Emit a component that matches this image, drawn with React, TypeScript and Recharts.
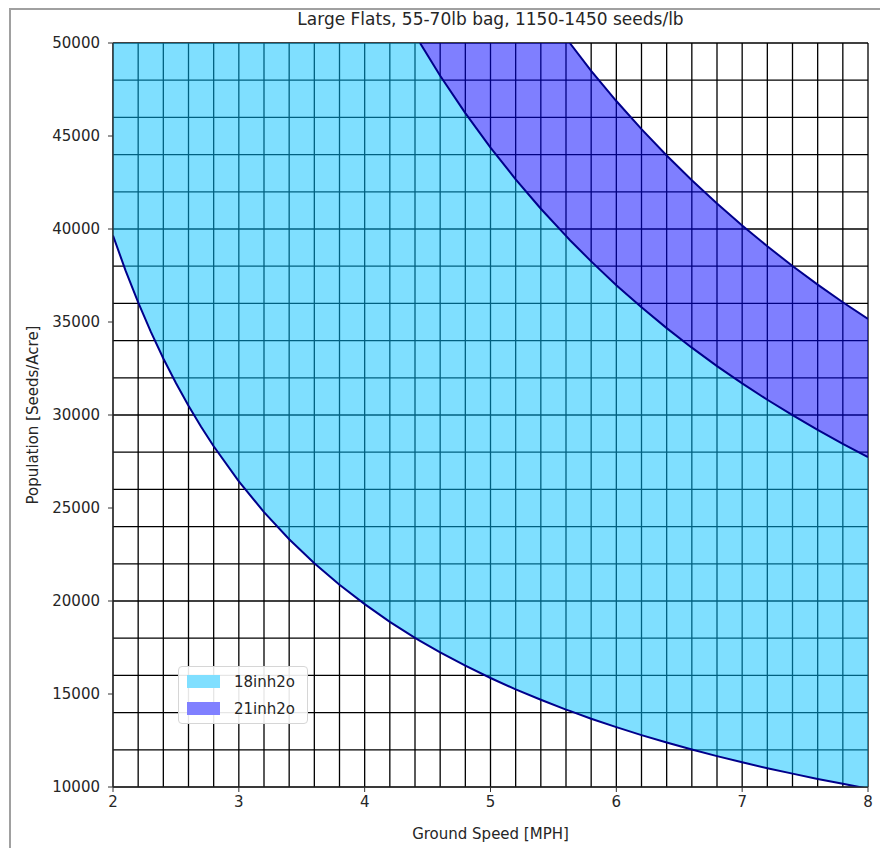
import {
  ComposedChart,
  Area,
  Line,
  XAxis,
  YAxis,
  CartesianGrid,
  Label,
} from 'recharts'

// ground speed [MPH]
const speeds = [
  2.0, 2.1, 2.2, 2.3, 2.4, 2.5, 2.6, 2.7, 2.8, 3.0, 3.2, 3.4, 3.6, 3.8, 4.0,
  4.2, 4.4, 4.44, 4.6, 4.8, 5.0, 5.2, 5.4, 5.6, 5.63, 5.8, 6.0, 6.2, 6.4, 6.6,
  6.8, 7.0, 7.2, 7.4, 7.6, 7.8, 8.0,
]

// lower edge of 18inh2o band
const lowCurve = [
  39650, 37760, 36050, 34480, 33040, 31720, 30500, 29370, 28320, 26430, 24780,
  23320, 22030, 20870, 19830, 18880, 18020, 17860, 17240, 16520, 15860, 15250,
  14690, 14160, 14090, 13670, 13220, 12790, 12390, 12020, 11660, 11330, 11010,
  10720, 10430, 10170, 9910,
]

// 18inh2o / 21inh2o boundary (null = above the plot)
const midCurve = [
  null, null, null, null, null, null, null, null, null, null, null, null, null,
  null, null, null, null, 50000, 48240, 46230, 44380, 42670, 41090, 39630,
  39410, 38260, 36980, 35790, 34670, 33620, 32630, 31700, 30820, 29990, 29200,
  28450, 27740,
]

// upper edge of 21inh2o band
const topCurve = [
  null, null, null, null, null, null, null, null, null, null, null, null, null,
  null, null, null, null, null, null, null, null, null, null, null, 50000,
  48500, 46880, 45370, 43950, 42620, 41370, 40190, 39070, 38010, 37010, 36060,
  35160,
]

const seriesNames = ['18inh2o', '21inh2o']
const xTicks = [2, 3, 4, 5, 6, 7, 8]
const yTicks = [10000, 15000, 20000, 25000, 30000, 35000, 40000, 45000, 50000]

const TOP = 50000
// grid every 0.2 mph and every 1000 seeds
const gridX = Array.from({ length: 31 }, (_, i) => (20 + i * 2) / 10)
const gridY = Array.from({ length: 41 }, (_, i) => 10000 + i * 1000)

const data = speeds.map((x, i) => ({
  x,
  low: lowCurve[i],
  mid: midCurve[i],
  top: topCurve[i],
  band18: [lowCurve[i], midCurve[i] ?? TOP],
  band21: [midCurve[i] ?? TOP, topCurve[i] ?? TOP],
}))

const font = "'DejaVu Sans', sans-serif"
const tickStyle = { fontSize: 15, fill: '#262626', fontFamily: font }

const LegendBox = () => (
  <div
    style={{
      position: 'absolute',
      left: 178,
      top: 666,
      background: 'rgba(255,255,255,0.9)',
      border: '1px solid #d6d6d6',
      borderRadius: 4,
      padding: '1px 12px 1px 8px',
      fontFamily: font,
      fontSize: 15,
      color: '#262626',
    }}
  >
    {seriesNames.map((name, i) => (
      <div
        key={name}
        style={{ display: 'flex', alignItems: 'center', height: 27 }}
      >
        <span
          style={{
            display: 'inline-block',
            width: 33,
            height: 13,
            background: ['#80dfff', '#8080ff'][i],
            marginRight: 14,
          }}
        />
        {name}
      </div>
    ))}
  </div>
)

export default function App() {
  return (
    <div
      style={{
        position: 'absolute',
        left: 0,
        top: 0,
        width: 880,
        height: 848,
        background: '#fff',
        overflow: 'hidden',
      }}
    >
      <div
        style={{
          position: 'absolute',
          left: 9,
          top: 8,
          width: 900,
          height: 900,
          borderLeft: '2px solid #a0a0a0',
          borderTop: '2px solid #a0a0a0',
        }}
      />
      <div
        style={{
          position: 'absolute',
          left: 113,
          width: 755,
          top: 9,
          textAlign: 'center',
          fontFamily: font,
          fontSize: 17,
          color: '#262626',
        }}
      >
        Large Flats, 55-70lb bag, 1150-1450 seeds/lb
      </div>
      <ComposedChart
        width={880}
        height={848}
        data={data}
        margin={{ top: 43, right: 12, bottom: 0, left: 0 }}
        style={{ position: 'absolute', left: 0, top: 0 }}
      >
        <CartesianGrid
          stroke="#000"
          strokeWidth={1.3}
          verticalValues={gridX}
          horizontalValues={gridY}
        />
        <XAxis
          dataKey="x"
          type="number"
          domain={[2, 8]}
          ticks={xTicks}
          height={61}
          tickSize={5}
          tickMargin={4}
          tick={tickStyle}
          stroke="#333"
          allowDataOverflow
        >
          <Label
            value="Ground Speed [MPH]"
            position="insideBottom"
            offset={9}
            style={{ fontSize: 15, fill: '#262626', fontFamily: font }}
          />
        </XAxis>
        <YAxis
          type="number"
          domain={[10000, TOP]}
          ticks={yTicks}
          width={113}
          tickSize={5}
          tickMargin={8}
          tick={tickStyle}
          stroke="#333"
          allowDataOverflow
        >
          <Label
            value="Population [Seeds/Acre]"
            angle={-90}
            position="insideLeft"
            offset={33}
            style={{
              fontSize: 15,
              fill: '#262626',
              fontFamily: font,
              textAnchor: 'middle',
            }}
          />
        </YAxis>
        <Area
          name={seriesNames[0]}
          dataKey="band18"
          type="linear"
          fill="#00bfff"
          fillOpacity={0.5}
          stroke="none"
          isAnimationActive={false}
        />
        <Area
          name={seriesNames[1]}
          dataKey="band21"
          type="linear"
          fill="#0000ff"
          fillOpacity={0.5}
          stroke="none"
          isAnimationActive={false}
        />
        {['low', 'mid', 'top'].map((k) => (
          <Line
            key={k}
            dataKey={k}
            type="linear"
            stroke="#00008b"
            strokeWidth={2}
            dot={false}
            isAnimationActive={false}
          />
        ))}
      </ComposedChart>
      <LegendBox />
    </div>
  )
}
